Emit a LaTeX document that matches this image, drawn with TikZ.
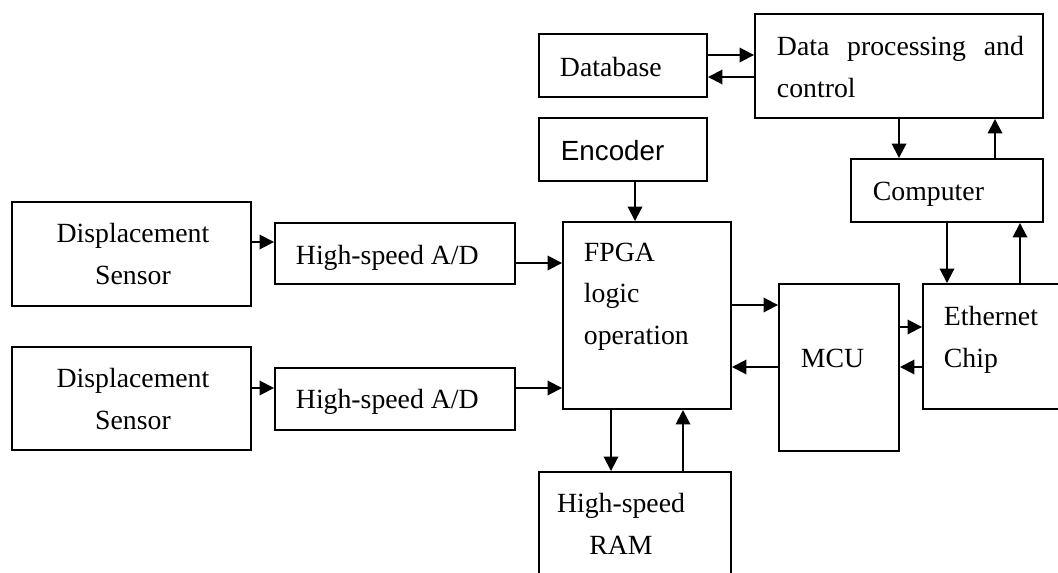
\documentclass[tikz,border=0pt]{standalone}
\usepackage{fontspec}
\setmainfont{Liberation Serif}
\newfontfamily\encfont{Liberation Sans}
\usetikzlibrary{arrows.meta,calc}

\begin{document}
\begin{tikzpicture}[
    x=0.02cm, y=-0.02cm,
    font=\fontsize{15.8}{23.5}\selectfont,
    line width=1.1pt,
    >={Triangle[length=0.29cm,width=0.29cm]}
  ]
\def\u{0.02cm}

\tikzstyle{blk}=[draw, inner sep=0pt]
\tikzstyle{txt}=[inner sep=0pt, anchor=base west, align=left]
\tikzstyle{ctxt}=[inner sep=0pt, anchor=base, align=center]

\useasboundingbox (0,0) rectangle (1058,572);
\clip (0,0) rectangle (1058,572);

% blocks
\node[blk, minimum width=239*\u, minimum height=104*\u] (sens1) at (131.5,254) {};
\node[blk, minimum width=239*\u, minimum height=103*\u] (sens2) at (131.5,398.5) {};
\node[blk, minimum width=240*\u, minimum height=61*\u] (ad1) at (395,253.5) {};
\node[blk, minimum width=240*\u, minimum height=62*\u] (ad2) at (395,399) {};
\node[blk, minimum width=168*\u, minimum height=187*\u] (fpga) at (647,315.5) {};
\node[blk, minimum width=168*\u, minimum height=63*\u] (enc) at (623,149.5) {};
\node[blk, minimum width=168*\u, minimum height=63*\u] (db) at (623,65.5) {};
\node[blk, minimum width=288*\u, minimum height=104*\u] (dp) at (899,66) {};
\node[blk, minimum width=192*\u, minimum height=63*\u] (comp) at (947,190.5) {};
\node[blk, minimum width=120*\u, minimum height=167*\u] (mcu) at (839,367.5) {};
\node[blk, minimum width=157*\u, minimum height=125*\u] (eth) at (1001.5,346.5) {};
\node[blk, minimum width=192*\u, minimum height=128*\u] (ram) at (635,536) {};

% texts (multi-line: placed at the last baseline)
\node[ctxt] (sens1txt) at (133,284) {Displacement\\Sensor};
\node[ctxt] (sens2txt) at (133,429) {Displacement\\Sensor};
\node[txt] (ad1txt) at (295,264) {High-speed A/D};
\node[txt] (ad2txt) at (295,408) {High-speed A/D};
\node[txt] (fpgatxt) at (583,344) {FPGA\\logic\\operation};
\node[txt, font={\encfont\fontsize{15.8}{23.5}\selectfont}] (enctxt) at (560,160) {Encoder};
\node[txt] (dbtxt) at (559,76) {Database};
\node[txt] (dptxt) at (776,97) {\makebox[4.94cm][s]{Data processing and}\\control};
\node[txt] (comptxt) at (872,200) {Computer};
\node[txt] (mcutxt) at (800,367) {MCU};
\node[txt] (ethtxt) at (943,367) {Ethernet\\Chip};
\node[ctxt] (ramtxt) at (621,554) {High-speed\\RAM};

% links
\draw[->] (sens1.east |- 0,242) -- (ad1.west |- 0,242);
\draw[->] (sens2.east |- 0,388) -- (ad2.west |- 0,388);
\draw[->] (ad1.east |- 0,263) -- (fpga.west |- 0,263);
\draw[->] (ad2.east |- 0,388) -- (fpga.west |- 0,388);
\draw[->] (enc.south -| 635,0) -- (fpga.north -| 635,0);
\draw[->] (db.east |- 0,55) -- (dp.west |- 0,55);
\draw[->] (dp.west |- 0,77) -- (db.east |- 0,77);
\draw[->] (dp.south -| 899,0) -- (comp.north -| 899,0);
\draw[->] (comp.north -| 995,0) -- (dp.south -| 995,0);
\draw[->] (comp.south -| 947,0) -- (eth.north -| 947,0);
\draw[->] (eth.north -| 1020,0) -- (comp.south -| 1020,0);
\draw[->] (fpga.east |- 0,305) -- (mcu.west |- 0,305);
\draw[->] (mcu.west |- 0,367) -- (fpga.east |- 0,367);
\draw[->] (mcu.east |- 0,327) -- (eth.west |- 0,327);
\draw[->] (eth.west |- 0,367) -- (mcu.east |- 0,367);
\draw[->] (fpga.south -| 611,0) -- (ram.north -| 611,0);
\draw[->] (ram.north -| 683,0) -- (fpga.south -| 683,0);

\end{tikzpicture}
\end{document}
